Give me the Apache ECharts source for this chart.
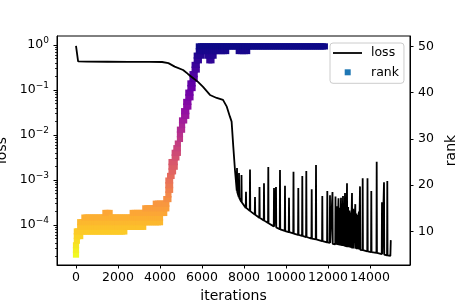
<!DOCTYPE html>
<html><head><meta charset="utf-8">
<script src="https://cdn.jsdelivr.net/npm/echarts@6/dist/echarts.min.js"></script>
<style>html,body{margin:0;padding:0;background:#fff}#c{width:456px;height:304px}</style>
</head><body><div id="c"></div>
<script>
// ---------- data ----------
const lossIters = [0,100,500,1500,2500,3500,4100,4400,4700,5100,5330,5570,5810,6050,6380,6700,7000,7180,7330,7410,7490,7570,
 7655,7667,7679, 7750,7762,7774, 7869,7881,7893, 8083,8095,8107, 8274,8286,8298, 8512,8524,8536, 8726,8738,8750,
 8940,8952,8964, 9145,9157,9169, 9417,9429,9441, 9512,9524,9536, 9702,9714,9726, 9940,9952,9964, 10131,10143,10155,
 10345,10357,10369, 10574,10586,10598, 10764,10776,10788, 10955,10967,10979, 11212,11224,11236, 11417,11429,11441,
 11717,11729,11741, 11955,11967,11979, 12083,12095,12107, 12202,12214,12226, 12345,12357,12369, 12418,12430,12442,
 12488,12500,12512, 12548,12560,12572, 12607,12619,12631, 12658,12670,12682, 12702,12714,12726, 12748,12760,12772,
 12798,12810,12822, 12848,12860,12872, 12893,12905,12917, 12948,12960,12972, 13012,13024,13036, 13068,13080,13092,
 13131,13143,13155, 13188,13200,13212, 13288,13300,13312, 13348,13360,13372, 13417,13429,13441, 13458,13470,13482,
 13512,13524,13536, 13640,13652,13664, 13869,13881,13893, 14050,14062,14074, 14307,14319,14331, 14559,14571,14583,
 14655,14667,14679, 14812,14824,14836, 14970,14990];
const lossValues = [0.95,0.43,0.425,0.423,0.421,0.42,0.418,0.395,0.33,0.278,0.227,0.185,0.151,0.117,0.0774,0.0664,0.060,0.0425,0.0255,0.0198,0.0055,0.00166,
 5.8e-4,1.85e-3,5.4e-4, 4.2e-4,1.43e-3,4.0e-4, 3.25e-4,1.29e-3,3.2e-4, 2.4e-4,5.5e-4,2.4e-4, 2.05e-4,1.71e-3,2.03e-4, 1.70e-4,4.2e-4,1.69e-4, 1.45e-4,7.0e-4,1.44e-4,
 1.26e-4,8.4e-4,1.25e-4, 1.10e-4,1.95e-3,1.09e-4, 9.3e-5,6.6e-4,9.2e-5, 8.9e-5,7.0e-4,8.8e-5, 8.1e-5,1.67e-3,8.0e-5, 7.4e-5,7.4e-4,7.3e-5, 6.9e-5,4.0e-4,6.9e-5,
 6.5e-5,1.53e-3,6.4e-5, 6.0e-5,6.6e-4,6.0e-5, 5.75e-5,1.23e-3,5.7e-5, 5.4e-5,1.58e-3,5.4e-5, 5.0e-5,6.2e-4,5.0e-5, 4.8e-5,2.15e-3,4.8e-5,
 4.4e-5,4.4e-4,4.4e-5, 4.1e-5,5.7e-4,4.1e-5, 4.0e-5,4.6e-4,4.0e-5, 3.8e-5,5.4e-4,3.8e-5, 3.7e-5,4.3e-4,3.7e-5, 3.65e-5,2.6e-4,3.6e-5,
 3.55e-5,3.9e-4,3.55e-5, 3.5e-5,2.4e-4,3.5e-5, 3.45e-5,4.0e-4,3.45e-5, 3.4e-5,3.0e-4,3.4e-5, 3.4e-5,4.4e-4,3.4e-5, 3.35e-5,2.2e-4,3.35e-5,
 3.3e-5,5.1e-4,3.3e-5, 3.25e-5,2.8e-4,3.25e-5, 3.2e-5,8.5e-4,3.2e-5, 3.2e-5,2.5e-4,3.2e-5, 3.15e-5,2.1e-4,3.15e-5, 3.1e-5,1.9e-4,3.1e-5,
 3.0e-5,5.1e-4,3.0e-5, 3.0e-5,2.3e-4,3.0e-5, 2.95e-5,2.9e-4,2.95e-5, 2.9e-5,1.8e-4,2.9e-5, 2.9e-5,1.67e-4,2.9e-5, 2.85e-5,2.0e-4,2.85e-5,
 2.8e-5,7.2e-4,2.8e-5, 2.75e-5,1.09e-3,2.75e-5, 2.6e-5,1.09e-3,2.6e-5, 2.5e-5,5.7e-4,2.5e-5, 2.4e-5,2.55e-3,2.4e-5, 2.25e-5,3.2e-4,2.25e-5,
 2.2e-5,8.9e-4,2.2e-5, 2.1e-5,9.5e-4,2.1e-5, 2.05e-5,4.6e-5];

const rankIters = [0,40,100,200,300,400,500,600,700,800,900,1000,1100,1200,1300,1400,1500,1600,1700,1800,1900,2000,2100,2200,2300,2400,2500,2600,2700,
 2800,2900,3000,3100,3200,3300,3400,3500,3600,3700,3800,3900,4000,4100,4200,4300,
 4400,4480,4550,4620,4700,4780,4850,4950,5050,5150,5250,5350,5450,5550,5650,5750,5850,5950,6050,6150,6250,6350,6450,6550,6650,6750,6850,6950,7050,7150,
 7250,7350,7450,7550,7650,7750,7850,7950,8050,8150,8250,8350,8450,8550,8650,8750,8850,8950,9050,9150,9250,9350,9450,9550,9650,9750,9850,9950,
 10050,10150,10250,10350,10450,10550,10650,10750,10850,10950,11050,11150,11250,11350,11450,11550,11650,11750,11850];
const rankSets = [[5,6,7],[8,9,10],[9,10],[9,10,11,12],[10,11,12],[10,11,12,13],[10,11,12,13],[10,11,12,13],[10,11,12,13],[10,11,12,13],[10,11,12,13],
 [10,11,12,13],[10,11,12,13],[10,11,12,13],[10,11,12,13],[10,11,12,13,14],[10,11,12,13,14],[10,11,12,13,14],[10,11,12,13],[10,11,12,13],[10,11,12,13],
 [10,11,12,13],[10,11,12,13],[10,11,12,13],[10,11,12,13],[11,12,13],[11,12,13],[11,12,13],[11,12,13,14],
 [11,12,13,14],[11,12,13,14],[11,12,13,14],[11,12,13,14],[11,12,13,14],[12,13,14,15],[12,13,14,15],[12,13,14,15],[12,13,14,15],[12,13,14,15],
 [12,13,14,15,16],[12,13,14,15,16],[12,13,14,15,16],[14,15,16],[14,15,16],[15,16,17],
 [17,18,19,20,21],[19,20,21,22],[22,23,24,25],[23,24,25],[24,25,26,27],[26,27,28],[27,28,29],[30,31,32],[32,33,34],[34,35,36],[35,36,37,38],
 [37,38,39,40],[39,40,41,42],[41,42,43,44],[43,44,45,46],[45,46,47,48],[47,48,49,50],[48,49,50],[49,50],[49,50],[48,49,50],[47,48,49,50],[47,48,49,50],
 [48,49,50],[49,50],[49,50],[49,50],[49,50],[49,50],[49,50],
 [50],[50],[50],[50],[50],[49,50],[49,50],[49,50],[49,50],[49,50],[50],[50],[50],[50],[50],[50],[50],[50],[50],[50],[50],[50],[50],[50],[50],[50],[50],[50],
 [50],[50],[50],[50],[50],[50],[50],[50],[50],[50],[50],[50],[50],[50],[50],[50],[50],[50],[50]];

const xTicks = [0,2000,4000,6000,8000,10000,12000,14000];
const lossTicks = [1e-4,1e-3,1e-2,1e-1,1];
const rankTicks = [10,20,30,40,50];
const xRange = [-905, 15905];
const lossRange = [1.29e-5, 1.58];
const rankRange = [2.75, 52.25];

// ---------- build ----------
const lossMinor = [];
for (let e = -5; e <= 0; e++) for (let k = 2; k <= 9; k++) {
  const v = k * Math.pow(10, e);
  if (v > lossRange[0] && v < lossRange[1]) lossMinor.push(v);
}
const lossData = lossIters.map((x, i) => [x, lossValues[i]]);
const rankData = [];
rankIters.forEach((x, i) => rankSets[i].forEach(r => rankData.push([x, r])));

const FONT = 'DejaVu Sans';
const AX = '#000';
const plasmaR = ['#f0f921','#fcce25','#fca636','#f2844b','#e16462','#cc4778','#b12a90','#8f0da4','#6a00a8','#41049d','#0d0887'];
const sup = e => (e < 0 ? '\u2212' + (-e) : '' + e);

const chart = echarts.init(document.getElementById('c'), null, {renderer: 'canvas'});
chart.setOption({
  animation: false,
  backgroundColor: '#fff',
  grid: {left: 57, top: 36, width: 353, height: 229, containLabel: false, outerBoundsMode: 'none',
    show: true, borderColor: AX, borderWidth: 1, backgroundColor: 'transparent'},
  xAxis: {
    type: 'value', min: xRange[0], max: xRange[1],
    axisLine: {show: true, onZero: false, lineStyle: {color: AX, width: 1}},
    axisTick: {show: true, length: 3.5, customValues: xTicks, lineStyle: {color: AX}},
    axisLabel: {customValues: xTicks, fontSize: 12.5, fontFamily: FONT, color: '#000', margin: 6,
      formatter: v => String(v)},
    splitLine: {show: false},
    name: 'iterations', nameLocation: 'middle', nameGap: 22,
    nameTextStyle: {fontSize: 14, fontFamily: FONT, color: '#000'}
  },
  yAxis: [
    {
      type: 'log', logBase: 10, min: lossRange[0], max: lossRange[1], position: 'left',
      axisLine: {show: true, onZero: false, lineStyle: {color: AX, width: 1}},
      axisTick: {show: true, length: 3.5, customValues: lossTicks, lineStyle: {color: AX}},
      axisLabel: {
        customValues: lossTicks, margin: 8, color: '#000',
        formatter: v => '{b|10}{s|' + sup(Math.round(Math.log10(v))) + '}',
        rich: {
          b: {fontSize: 12.5, fontFamily: FONT, color: '#000', lineHeight: 14},
          s: {fontSize: 9, fontFamily: FONT, color: '#000', padding: [0, 0, 8, 0]}
        }
      },
      splitLine: {show: false}, minorTick: {show: false},
      name: 'loss', nameLocation: 'middle', nameGap: 41, nameRotate: 90,
      nameTextStyle: {fontSize: 14, fontFamily: FONT, color: '#000'}
    },
    {
      type: 'log', logBase: 10, min: lossRange[0], max: lossRange[1], position: 'left',
      axisLine: {show: false, onZero: false},
      axisTick: {show: true, length: 2, customValues: lossMinor, lineStyle: {color: AX, width: 0.8}},
      axisLabel: {show: false}, splitLine: {show: false}
    },
    {
      type: 'value', min: rankRange[0], max: rankRange[1], position: 'right',
      axisLine: {show: true, onZero: false, lineStyle: {color: AX, width: 1}},
      axisTick: {show: true, length: 3.5, customValues: rankTicks, lineStyle: {color: AX}},
      axisLabel: {customValues: rankTicks, fontSize: 12.5, fontFamily: FONT, color: '#000', margin: 8},
      splitLine: {show: false},
      name: 'rank', nameLocation: 'middle', nameGap: 19, nameRotate: 90,
      nameTextStyle: {fontSize: 14, fontFamily: FONT, color: '#000'}
    }
  ],
  visualMap: {type: 'continuous', show: false, seriesIndex: 0, dimension: 1, min: 5, max: 50, inRange: {color: plasmaR}},
  legend: {
    orient: 'vertical', left: 330, top: 43, padding: [3, 5, 4, 3],
    itemWidth: 33, itemHeight: 8, itemGap: 5.3,
    backgroundColor: 'rgba(255,255,255,0.8)', borderColor: '#cccccc', borderWidth: 1, borderRadius: 3,
    textStyle: {fontSize: 12.5, fontFamily: FONT, color: '#000', lineHeight: 14},
    data: [
      {name: 'loss', icon: 'path://M0,0M33,8M0,3.1h29v1.8h-29z', itemStyle: {color: '#000', borderWidth: 0}},
      {name: 'rank', icon: 'path://M0,0M33,8M11.7,1h6v6h-6z', itemStyle: {color: '#1f77b4', borderWidth: 0}}
    ]
  },
  series: [
    {name: 'rank', type: 'scatter', xAxisIndex: 0, yAxisIndex: 2, data: rankData, symbol: 'rect', symbolSize: 6.2,
      itemStyle: {color: '#1f77b4', opacity: 1, borderWidth: 0}, z: 2, silent: true, large: false},
    {name: 'loss', type: 'line', xAxisIndex: 0, yAxisIndex: 0, data: lossData, symbol: 'none', showSymbol: false,
      lineStyle: {color: '#000', width: 1.8}, itemStyle: {color: '#000'}, z: 3, silent: true, clip: true}
  ]
});
</script></body></html>
